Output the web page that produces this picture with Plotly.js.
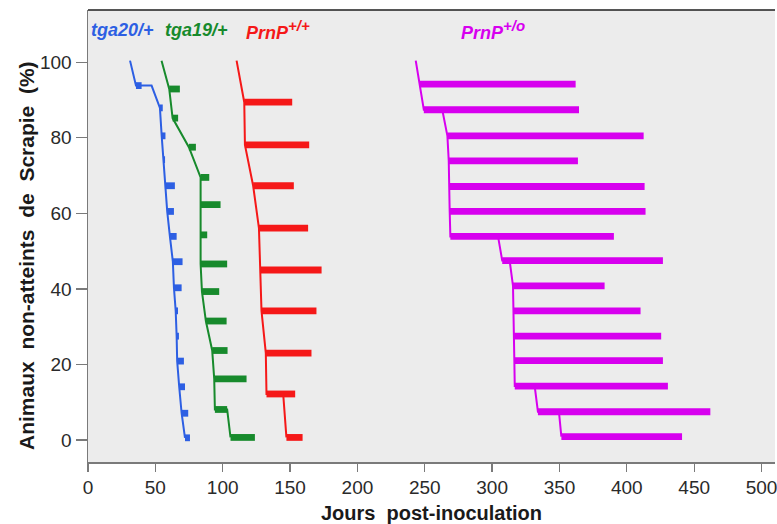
<!DOCTYPE html>
<html>
<head>
<meta charset="utf-8">
<script src="https://cdn.plot.ly/plotly-3.0.1.min.js"></script>
<style>
  html, body { margin: 0; padding: 0; background: #ffffff; }
  #chart { width: 777px; height: 524px; }
</style>
</head>
<body>
<div id="chart"></div>
<script>
// ---- tga20/+ (blue) ----
const tga20LineDays = [31.2, 35.6, 47.2, 53.4, 54.7, 55.9, 57.1, 58.8, 60.8, 63.0, 63.8, 65.1, 65.8, 66.2, 67.7, 69.5, 72.0];
const tga20LinePct  = [100.4, 93.8, 93.8, 87.9, 80.5, 74.2, 67.3, 60.5, 53.9, 47.2, 40.3, 34.2, 27.5, 20.9, 14.1, 7.1, 0.6];
const tga20BarPct   = [93.8, 87.9, 80.5, 74.2, 67.3, 60.5, 53.9, 47.2, 40.3, 34.2, 27.5, 20.9, 14.1, 7.1, 0.6];
const tga20BarStart = [35.6, 53.4, 54.7, 55.9, 57.1, 58.8, 60.8, 63.0, 63.8, 65.1, 65.8, 66.2, 67.7, 69.5, 72.0];
const tga20BarEnd   = [39.8, 55.5, 57.5, 57.2, 64.5, 63.8, 65.8, 70.2, 69.5, 66.8, 67.5, 71.2, 72.0, 74.4, 75.7];

// ---- tga19/+ (green) ----
const tga19LineDays = [54.6, 60.3, 62.8, 74.9, 83.6, 83.6, 83.6, 83.6, 84.6, 87.5, 92.2, 93.7, 94.2, 103.3, 105.8];
const tga19LinePct  = [100.4, 92.9, 85.2, 77.5, 69.5, 62.3, 54.3, 46.6, 39.3, 31.5, 23.7, 16.2, 8.1, 8.1, 0.7];
const tga19BarPct   = [92.9, 85.2, 77.5, 69.5, 62.3, 54.3, 46.6, 39.3, 31.5, 23.7, 16.2, 8.1, 0.7];
const tga19BarStart = [60.3, 62.8, 74.9, 83.6, 83.6, 83.6, 83.6, 84.6, 87.5, 92.2, 93.7, 94.2, 105.8];
const tga19BarEnd   = [68.2, 66.9, 80.1, 90.0, 98.4, 88.5, 103.3, 97.4, 102.9, 103.6, 117.7, 103.3, 123.9];

// ---- PrnP+/+ (red) ----
const wtLineDays = [110.3, 116.0, 116.5, 122.6, 126.9, 128.1, 128.8, 132.0, 132.5, 144.9, 147.3];
const wtLinePct  = [100.4, 89.4, 78.1, 67.3, 56.1, 45.0, 34.2, 23.0, 12.2, 12.2, 0.7];
const wtBarPct   = [89.4, 78.1, 67.3, 56.1, 45.0, 34.2, 23.0, 12.2, 0.7];
const wtBarStart = [116.0, 116.5, 122.6, 126.9, 128.1, 128.8, 132.0, 132.5, 147.3];
const wtBarEnd   = [151.6, 164.2, 152.8, 163.4, 173.4, 169.6, 165.9, 153.8, 159.3];

// ---- PrnP+/o (magenta) ----
const hemiLineDays = [243.3, 246.3, 249.3, 263.0, 266.8, 267.8, 268.0, 268.5, 269.0, 304.4, 307.5, 313.0, 315.5, 316.0, 316.3, 316.5, 316.8, 331.6, 334.0, 349.6, 351.4];
const hemiLinePct  = [100.4, 94.2, 87.4, 87.4, 80.5, 73.9, 67.1, 60.5, 53.9, 53.9, 47.5, 47.5, 40.8, 34.2, 27.5, 21.0, 14.3, 14.3, 7.5, 7.5, 0.9];
const hemiBarPct   = [94.2, 87.4, 80.5, 73.9, 67.1, 60.5, 53.9, 47.5, 40.8, 34.2, 27.5, 21.0, 14.3, 7.5, 0.9];
const hemiBarStart = [246.3, 249.3, 266.8, 267.8, 268.0, 268.5, 269.0, 307.5, 315.5, 316.0, 316.3, 316.5, 316.8, 334.0, 351.4];
const hemiBarEnd   = [362.0, 364.5, 412.5, 363.7, 413.2, 413.9, 390.4, 426.8, 383.5, 410.2, 425.5, 426.8, 430.5, 462.0, 441.0];

const xTickVals = [0, 50, 100, 150, 200, 250, 300, 350, 400, 450, 500];
const yTickVals = [0, 20, 40, 60, 80, 100];

const series = [
  {name: 'tga20/+', label: 'tga20/+', color: '#2d5fe3', lx: tga20LineDays, ly: tga20LinePct, bp: tga20BarPct, bs: tga20BarStart, be: tga20BarEnd, tx: 1.0},
  {name: 'tga19/+', label: 'tga19/+', color: '#178a2c', lx: tga19LineDays, ly: tga19LinePct, bp: tga19BarPct, bs: tga19BarStart, be: tga19BarEnd, tx: 56},
  {name: 'PrnP+/+', label: 'PrnP<sup><span style="font-size:15px">+/+</span></sup>', color: '#f51818', lx: wtLineDays, ly: wtLinePct, bp: wtBarPct, bs: wtBarStart, be: wtBarEnd, tx: 115.5},
  {name: 'PrnP+/o', label: 'PrnP<sup><span style="font-size:15px">+/o</span></sup>', color: '#d700ef', lx: hemiLineDays, ly: hemiLinePct, bp: hemiBarPct, bs: hemiBarStart, be: hemiBarEnd, tx: 275.5}
];

const traces = [];
const annotations = [];
series.forEach(s => {
  const bx = [], by = [];
  s.bp.forEach((p, i) => { bx.push(s.bs[i], s.be[i], null); by.push(p, p, null); });
  traces.push({type: 'scatter', mode: 'lines', x: bx, y: by, name: s.name + ' bars',
    line: {color: s.color, width: 6.8}, hoverinfo: 'skip', showlegend: false});
  traces.push({type: 'scatter', mode: 'lines', x: s.lx, y: s.ly, name: s.name,
    line: {color: s.color, width: 2}, hoverinfo: 'skip', showlegend: false});
  annotations.push({x: s.tx, y: 108.6, xref: 'x', yref: 'y', xanchor: 'left', yanchor: 'middle',
    text: '<b><i>' + s.label + '</i></b>', showarrow: false,
    font: {family: 'Liberation Sans, Arial, sans-serif', size: 18, color: s.color}});
});

const tickFont = {family: 'Liberation Sans Narrow, Liberation Sans, Arial, sans-serif', size: 19, color: '#2a2a2a'};
const titleFont = {family: 'Liberation Sans, Arial, sans-serif', size: 20, color: '#1a1a1a'};

// y-axis title placed as a rotated text so its position matches the original
annotations.push({x: -0.0888, y: 0.458, xref: 'paper', yref: 'paper', xanchor: 'center', yanchor: 'middle',
  textangle: -90, showarrow: false, text: '<b>Animaux  non-atteints  de  Scrapie  (%)</b>',
  font: {family: 'Liberation Sans, Arial, sans-serif', size: 21, color: '#1a1a1a'}});

const layout = {
  width: 777, height: 524,
  margin: {l: 88, r: 2, t: 10, b: 62, pad: 0},
  paper_bgcolor: '#ffffff',
  plot_bgcolor: '#ececec',
  showlegend: false,
  xaxis: {
    range: [0, 510], tickvals: xTickVals, ticktext: xTickVals.map(String),
    ticks: 'outside', ticklen: 8, tickwidth: 1.3, tickcolor: '#7a7a7a',
    ticklabeloverflow: 'allow',
    showline: true, linecolor: '#7a7a7a', linewidth: 1.5,
    showgrid: false, zeroline: false, tickfont: tickFont,
    title: {text: '<b>Jours  post-inoculation</b>', standoff: 9, font: titleFont}
  },
  yaxis: {
    range: [-5.8, 113.8], tickvals: yTickVals, ticktext: yTickVals.map(String),
    ticks: 'outside', ticklen: 11, tickwidth: 1.3, tickcolor: '#7a7a7a',
    showline: true, linecolor: '#7a7a7a', linewidth: 1.5,
    showgrid: false, zeroline: false, tickfont: tickFont
  },
  shapes: [
    {type: 'line', xref: 'paper', yref: 'paper', x0: 0, x1: 1, y0: 1, y1: 1, line: {color: '#1e1e1e', width: 1.5}}
  ],
  annotations: annotations
};

Plotly.newPlot('chart', traces, layout, {staticPlot: true, displayModeBar: false});
</script>
</body>
</html>
